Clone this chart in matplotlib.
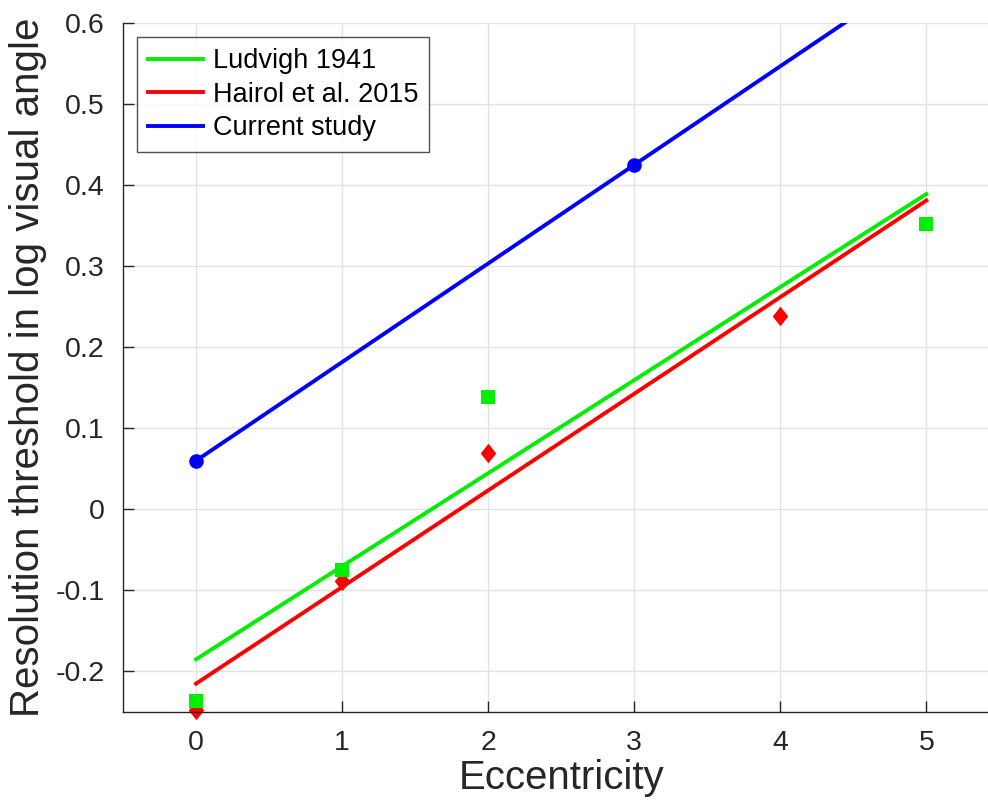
import matplotlib
matplotlib.use('agg')
import matplotlib.pyplot as plt
from matplotlib.path import Path

# 数据
ecc_ludvigh = [0, 1, 2, 5]
thr_ludvigh = [-0.237, -0.075, 0.139, 0.352]
ecc_hairol = [0, 1, 2, 4]
thr_hairol = [-0.248, -0.088, 0.069, 0.238]
ecc_current = [0, 3]
thr_current = [0.06, 0.425]

fit_x = [0, 5]
fit_ludvigh = [-0.185, 0.389]
fit_hairol = [-0.215, 0.381]
fit_current = [0.06, 0.6683]

plt.rcParams['font.family'] = ['Liberation Sans', 'DejaVu Sans']

fig = plt.figure(figsize=(9.88, 8.07), dpi=100)
ax = fig.add_axes([0.1245, 0.1177, 0.887, 0.8538])

green = '#00ee00'
red = '#ff0000'
blue = '#0000ff'

# MATLAB风格菱形
diamond = Path([(0, 1), (0.8, 0), (0, -1), (-0.8, 0), (0, 1)],
               [Path.MOVETO, Path.LINETO, Path.LINETO, Path.LINETO, Path.CLOSEPOLY])

ax.plot(fit_x, fit_ludvigh, color=green, linewidth=2.8, label='Ludvigh 1941')
ax.plot(fit_x, fit_hairol, color=red, linewidth=2.8, label='Hairol et al. 2015')
ax.plot(fit_x, fit_current, color=blue, linewidth=2.8, label='Current study')

ax.plot(ecc_hairol, thr_hairol, linestyle='none', marker=diamond, markersize=14,
        color=red, markeredgewidth=0, clip_on=False)
ax.plot(ecc_ludvigh, thr_ludvigh, linestyle='none', marker='s', markersize=9.5,
        color=green, markeredgewidth=0, clip_on=False)
ax.plot(ecc_current, thr_current, linestyle='none', marker='o', markersize=10.5,
        color=blue, markeredgewidth=0)

ax.set_xlim(-0.5, 5.5)
ax.set_ylim(-0.25, 0.6)
ax.set_xticks([0, 1, 2, 3, 4, 5])
ax.set_yticks([-0.2, -0.1, 0, 0.1, 0.2, 0.3, 0.4, 0.5, 0.6])
ax.set_yticklabels(['-0.2', '-0.1', '0', '0.1', '0.2', '0.3', '0.4', '0.5', '0.6'])

ax.grid(True, color='#e3e3e3', linewidth=1)
ax.set_axisbelow(True)
for s in ['top', 'right']:
    ax.spines[s].set_visible(False)
for s in ['left', 'bottom']:
    ax.spines[s].set_color('#262626')
    ax.spines[s].set_linewidth(1)
ax.tick_params(direction='in', length=8, width=1, colors='#262626',
               labelsize=20.5, pad=13)

ax.set_xlabel('Eccentricity', fontsize=29, color='#262626', labelpad=2)
ax.set_ylabel('Resolution threshold in log visual angle', fontsize=29,
              color='#262626', labelpad=6)

leg = ax.legend(loc='upper left', bbox_to_anchor=(0.016, 0.979), fontsize=19.5,
                frameon=True, fancybox=False, borderpad=0.4, labelspacing=0.28,
                handlelength=2.05, handletextpad=0.35, borderaxespad=0)
leg.get_frame().set_edgecolor('#262626')
leg.get_frame().set_linewidth(1)

plt.savefig('out.png')
plt.close()
